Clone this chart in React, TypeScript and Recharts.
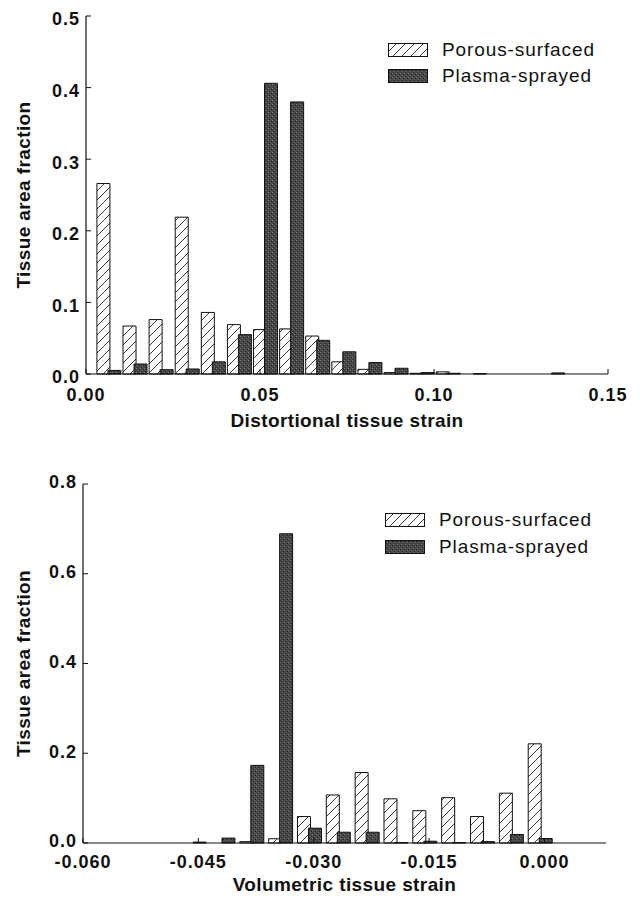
import React from 'react';
import { BarChart, Bar, XAxis, YAxis, Legend } from 'recharts';

// top panel: distortional strain histogram (bin centres)
const distBins = [0.0066, 0.0141, 0.0216, 0.0291, 0.0366, 0.0441, 0.0516, 0.0591, 0.0666, 0.0741, 0.0816, 0.0891, 0.0966, 0.1041, 0.1116, 0.1191, 0.1266, 0.1341, 0.1416, 0.1491];
const distPorous = [0.266, 0.067, 0.076, 0.219, 0.086, 0.069, 0.062, 0.063, 0.053, 0.017, 0.0065, 0.002, 0.001, 0.003, 0, 0, 0, 0, 0, 0];
const distPlasma = [0.005, 0.014, 0.006, 0.007, 0.017, 0.055, 0.406, 0.38, 0.047, 0.031, 0.016, 0.008, 0.002, 0.001, 0.0005, 0, 0, 0.0015, 0, 0];
const distXTicks = [0, 0.05, 0.1, 0.15];
const distYTicks = [0, 0.1, 0.2, 0.3, 0.4, 0.5];

// bottom panel: volumetric strain histogram
const volBins = [-0.05675, -0.053, -0.04925, -0.0455, -0.04175, -0.038, -0.03425, -0.0305, -0.02675, -0.023, -0.01925, -0.0155, -0.01175, -0.008, -0.00425, -0.0005];
const volPorous = [0, 0, 0, 0, 0, 0.003, 0.0095, 0.059, 0.107, 0.157, 0.0985, 0.072, 0.101, 0.059, 0.111, 0.221];
const volPlasma = [0, 0, 0, 0.002, 0.011, 0.173, 0.689, 0.033, 0.024, 0.024, 0.001, 0.004, 0.001, 0.003, 0.019, 0.01];
const volXTicks = [-0.06, -0.045, -0.03, -0.015, 0];
const volYTicks = [0, 0.2, 0.4, 0.6, 0.8];

const seriesOrder = ['porous', 'plasma'];

const FONT = '"Liberation Sans", Arial, Helvetica, sans-serif';
const INK = '#111';

const tickFont = { fontSize: 18, fontWeight: 'bold', fill: INK, fontFamily: FONT, letterSpacing: 1 };
const titleFont = { fontSize: 19, fontWeight: 'bold', fill: INK, fontFamily: FONT, letterSpacing: 0.4 };

function Patterns({ id }: { id: string }) {
  return (
    <defs>
      <pattern id={`hatch-${id}`} patternUnits="userSpaceOnUse" width={9} height={9}>
        <rect width={9} height={9} fill="#fff" />
        <path d="M-1,10 L10,-1 M-2,2 L2,-2 M7,11 L11,7" stroke="#222" strokeWidth={0.9} />
      </pattern>
      <pattern id={`stipple-${id}`} patternUnits="userSpaceOnUse" width={4} height={4}>
        <rect width={4} height={4} fill="#474747" />
        <rect x={0} y={0} width={1} height={1} fill="#7a7a7a" />
        <rect x={2} y={2} width={1} height={1} fill="#6a6a6a" />
        <rect x={3} y={1} width={1} height={1} fill="#222" />
        <rect x={1} y={3} width={1} height={1} fill="#2a2a2a" />
      </pattern>
    </defs>
  );
}

const legendContent = (id: string, rowHeight: number) => (props: any) => {
  // keep the legend in series order (Porous first), not alphabetical
  const items = [...(props.payload ?? [])].sort(
    (a: any, b: any) => seriesOrder.indexOf(a.dataKey) - seriesOrder.indexOf(b.dataKey)
  );
  return (
    <div style={{ fontFamily: FONT, fontSize: 19, letterSpacing: 0.9, color: INK }}>
      {items.map((item: any) => (
        <div key={item.value} style={{ display: 'flex', alignItems: 'center', height: rowHeight }}>
          <svg width={40} height={14} style={{ display: 'block', marginRight: 14 }}>
            <rect
              x={0.5}
              y={0.5}
              width={39}
              height={13}
              fill={item.dataKey === 'porous' ? `url(#hatch-${id})` : `url(#stipple-${id})`}
              stroke={INK}
            />
          </svg>
          <span>{item.value}</span>
        </div>
      ))}
    </div>
  );
};

type PanelProps = {
  id: string;
  bins: number[];
  porous: number[];
  plasma: number[];
  xDomain: [number, number];
  xTicks: number[];
  xDigits: number;
  yDomain: [number, number];
  yTicks: number[];
  xTitle: string;
  height: number;
  margin: { top: number; right: number; bottom: number; left: number };
  yAxisWidth: number;
  xAxisHeight: number;
  xTickMargin: number;
  yTickDy: number;
  xTitleOffset: number;
  legendPos: { top: number; left: number };
  legendRow: number;
};

function StrainHistogram(p: PanelProps) {
  const data = p.bins.map((strain, i) => ({ strain, porous: p.porous[i], plasma: p.plasma[i] }));

  return (
    <BarChart width={640} height={p.height} data={data} margin={p.margin} barSize={13} barGap={-2}>
      <Patterns id={p.id} />
      <XAxis
        type="number"
        dataKey="strain"
        domain={p.xDomain}
        ticks={p.xTicks}
        interval={0}
        allowDataOverflow
        height={p.xAxisHeight}
        tickSize={-5}
        tickMargin={p.xTickMargin}
        tickFormatter={(v: number) => v.toFixed(p.xDigits)}
        axisLine={{ stroke: INK, strokeWidth: 1.2 }}
        tickLine={{ stroke: INK }}
        tick={tickFont}
        label={{ value: p.xTitle, position: 'insideBottom', offset: p.xTitleOffset, style: titleFont }}
      />
      <YAxis
        type="number"
        domain={p.yDomain}
        ticks={p.yTicks}
        interval={0}
        width={p.yAxisWidth}
        tickSize={-5}
        tickMargin={11}
        tickFormatter={(v: number) => v.toFixed(1)}
        axisLine={{ stroke: INK, strokeWidth: 1.2 }}
        tickLine={{ stroke: INK }}
        tick={{ ...tickFont, dy: p.yTickDy }}
        label={{
          value: 'Tissue area fraction',
          angle: -90,
          position: 'insideLeft',
          offset: 3,
          style: { ...titleFont, textAnchor: 'middle' },
        }}
      />
      <Legend
        layout="vertical"
        align="center"
        verticalAlign="middle"
        itemSorter={(item: any) => seriesOrder.indexOf(item.dataKey)}
        wrapperStyle={{ top: p.legendPos.top, left: p.legendPos.left, width: 'auto' }}
        content={legendContent(p.id, p.legendRow)}
      />
      <Bar
        dataKey="porous"
        name="Porous-surfaced"
        fill={`url(#hatch-${p.id})`}
        stroke={INK}
        strokeWidth={1}
        isAnimationActive={false}
      />
      <Bar
        dataKey="plasma"
        name="Plasma-sprayed"
        fill={`url(#stipple-${p.id})`}
        stroke={INK}
        strokeWidth={1}
        isAnimationActive={false}
      />
    </BarChart>
  );
}

export default function App() {
  return (
    <div style={{ position: 'absolute', left: 0, top: 0, width: 640, height: 905, background: '#fff' }}>
      <div style={{ position: 'absolute', left: 0, top: 0 }}>
        <StrainHistogram
          id="dist"
          bins={distBins}
          porous={distPorous}
          plasma={distPlasma}
          xDomain={[0, 0.15]}
          xTicks={distXTicks}
          xDigits={2}
          yDomain={[0, 0.5]}
          yTicks={distYTicks}
          xTitle="Distortional tissue strain"
          height={450}
          margin={{ top: 16, right: 32, bottom: 16, left: 20 }}
          yAxisWidth={66}
          xAxisHeight={60}
          xTickMargin={19}
          yTickDy={3}
          xTitleOffset={7}
          legendPos={{ top: 37, left: 388 }}
          legendRow={26}
        />
      </div>
      <div style={{ position: 'absolute', left: 0, top: 450 }}>
        <StrainHistogram
          id="vol"
          bins={volBins}
          porous={volPorous}
          plasma={volPlasma}
          xDomain={[-0.06, 0.008]}
          xTicks={volXTicks}
          xDigits={3}
          yDomain={[0, 0.8]}
          yTicks={volYTicks}
          xTitle="Volumetric tissue strain"
          height={455}
          margin={{ top: 34, right: 34, bottom: 12, left: 20 }}
          yAxisWidth={63}
          xAxisHeight={50}
          xTickMargin={17}
          yTickDy={-2}
          xTitleOffset={2}
          legendPos={{ top: 56, left: 385 }}
          legendRow={27}
        />
      </div>
    </div>
  );
}
